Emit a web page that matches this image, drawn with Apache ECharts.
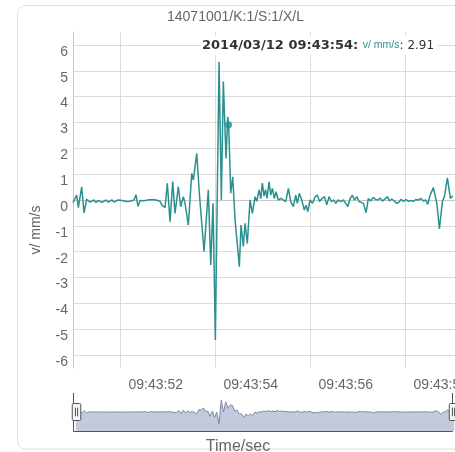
<!DOCTYPE html>
<html>
<head>
<meta charset="utf-8">
<script src="https://cdn.jsdelivr.net/npm/echarts@6/dist/echarts.min.js"></script>
<style>
  html, body { margin: 0; padding: 0; background: #fff; }
  #main { width: 455px; height: 452px; }
</style>
</head>
<body>
<div id="main"></div>
<script>
// seconds after 09:43:00
var times = [
  51.000, 51.040, 51.078, 51.112, 51.183, 51.232, 51.288, 51.326, 51.358, 51.400,
  51.442, 51.484, 51.526, 51.568, 51.611, 51.653, 51.695, 51.737, 51.779, 51.821,
  51.863, 51.905, 51.947, 51.989, 52.032, 52.074, 52.116, 52.158, 52.200, 52.242,
  52.284, 52.326, 52.368, 52.411, 52.453, 52.495, 52.537, 52.579, 52.621, 52.663,
  52.705, 52.747, 52.789, 52.832, 52.874, 52.937, 52.985, 53.042, 53.099, 53.147,
  53.217, 53.267, 53.322, 53.358, 53.427, 53.499, 53.533, 53.604, 53.659, 53.688,
  53.758, 53.848, 53.899, 53.947, 53.996, 54.074, 54.122, 54.164, 54.221, 54.257,
  54.276, 54.320, 54.362, 54.411, 54.446, 54.501, 54.537, 54.585, 54.621, 54.669,
  54.726, 54.775, 54.832, 54.867, 54.916, 54.952, 54.985, 55.021, 55.053, 55.084,
  55.126, 55.162, 55.196, 55.238, 55.274, 55.322, 55.379, 55.427, 55.478, 55.533,
  55.583, 55.638, 55.688, 55.722, 55.764, 55.815, 55.869, 55.905, 55.941, 55.989,
  56.042, 56.095, 56.143, 56.189, 56.242, 56.291, 56.341, 56.389, 56.438, 56.484,
  56.531, 56.579, 56.636, 56.691, 56.741, 56.783, 56.832, 56.880, 56.922, 56.973,
  57.021, 57.063, 57.112, 57.168, 57.217, 57.263, 57.322, 57.368, 57.415, 57.463,
  57.512, 57.568, 57.617, 57.659, 57.710, 57.764, 57.815, 57.863, 57.905, 57.954,
  58.004, 58.059, 58.116, 58.164, 58.215, 58.269, 58.326, 58.375, 58.425, 58.467,
  58.516, 58.585, 58.657, 58.712, 58.775, 58.817, 58.880, 58.943, 58.992, 59.048
];
// v/ mm/s
var values = [
  -0.10, 0.05, 0.19, -0.30, 0.51, -0.50, 0.03, 0.00, -0.08, -0.02,
  0.00, -0.10, -0.02, 0.00, -0.09, -0.03, 0.00, -0.08, -0.02, 0.00,
  -0.08, -0.02, 0.00, -0.07, -0.02, 0.02, -0.06, 0.00, -0.05, 0.02,
  0.00, 0.20, -0.25, -0.02, 0.05, -0.03, 0.03, 0.00, 0.05, 0.02,
  0.05, 0.00, 0.03, -0.05, -0.20, -0.30, 0.65, -0.84, 0.71, -0.52,
  0.52, -0.26, 0.13, -0.13, -0.97, 1.03, 0.77, 1.81, 0.26, 0.32,
  -2.00, 0.39, -2.51, -0.13, -5.42, 5.35, 0.00, 4.58, 1.61, 3.22,
  2.91, 0.26, 0.90, -0.77, -0.84, -2.58, -0.97, -1.80, -0.90, -1.68,
  0.00, -0.52, 0.13, -0.05, 0.39, 0.05, 0.65, 0.15, 0.40, 0.06,
  0.70, 0.19, 0.45, 0.06, 0.32, 0.00, 0.06, 0.00, -0.06, 0.45,
  -0.06, -0.26, 0.19, -0.13, 0.26, 0.00, -0.39, -0.20, -0.45, 0.00,
  -0.13, 0.13, 0.19, -0.06, 0.06, 0.13, -0.19, 0.13, -0.06, 0.00,
  -0.13, 0.00, -0.06, 0.00, -0.13, -0.26, 0.06, 0.19, 0.00, 0.13,
  -0.06, -0.02, -0.13, -0.49, 0.06, -0.04, 0.10, 0.02, 0.00, 0.08,
  -0.04, 0.04, 0.13, -0.04, 0.04, -0.04, -0.13, -0.08, 0.03, -0.06,
  0.02, -0.05, -0.02, -0.05, 0.02, 0.00, 0.06, -0.04, 0.00, -0.17,
  0.19, 0.48, -0.13, -1.12, -0.06, 0.13, 0.86, 0.06, 0.16, 0.06
];
var yTicks = [-6, -5, -4, -3, -2, -1, 0, 1, 2, 3, 4, 5, 6];
var xTicks = [52, 54, 56, 58];
var hoverPoint = [54.276, 2.91];

var lineColor = '#2b908f';
var chart = echarts.init(document.getElementById('main'));

var seriesData = times.map(function (t, i) { return [t, values[i]]; });

function timeLabel(v) {
  var s = Math.floor(v + 1e-6);
  return '09:43:' + (s < 10 ? '0' + s : s);
}

var option = {
  animation: false,
  textStyle: { fontFamily: 'Liberation Sans' },
  title: {
    text: '14071001/K:1/S:1/X/L',
    left: 167, top: 10, padding: 0,
    textStyle: { fontSize: 14, fontWeight: 'normal', color: '#666', fontFamily: 'Liberation Sans' }
  },
  grid: { left: 73, right: 0, top: 32, bottom: 84, outerBoundsMode: 'none', containLabel: false },
  xAxis: {
    type: 'value', min: 51, max: 59.04,
    name: 'Time/sec', nameLocation: 'middle', nameGap: 71,
    nameTextStyle: { fontSize: 16, color: '#666', padding: [0, 52, 0, 0] },
    axisLine: { show: true, lineStyle: { color: '#c8c8c8' } },
    axisTick: { show: false, customValues: xTicks },
    axisLabel: {
      customValues: xTicks, formatter: timeLabel,
      align: 'left', padding: [0, 0, 0, 8], margin: 10,
      fontSize: 14, color: '#666', hideOverlap: false
    },
    splitLine: { show: true, lineStyle: { color: '#dcdcdc' } }
  },
  yAxis: {
    type: 'value', min: -6.5, max: 6.5,
    name: 'v/ mm/s', nameLocation: 'middle', nameGap: 30, nameRotate: 90,
    nameTextStyle: { fontSize: 14, color: '#666', padding: [0, 60, 0, 0] },
    axisLine: { show: true, lineStyle: { color: '#c8c8c8' } },
    axisTick: { show: false, customValues: yTicks },
    axisLabel: {
      customValues: yTicks, fontSize: 14, color: '#666', margin: 5,
      verticalAlign: 'top'
    },
    splitLine: { show: true, lineStyle: { color: '#dcdcdc' } }
  },
  dataZoom: [{
    type: 'slider', xAxisIndex: 0, start: 0, end: 100,
    left: 73, right: 3, top: 393, height: 38,
    showDetail: false, brushSelect: false, moveHandleSize: 0,
    borderColor: 'transparent', backgroundColor: 'transparent',
    fillerColor: 'rgba(0,0,0,0)',
    handleIcon: 'path://M1,0H7A1,1,0,0,1,8,1V15A1,1,0,0,1,7,16H1A1,1,0,0,1,0,15V1A1,1,0,0,1,1,0Z M3,4V12 M5,4V12',
    handleSize: 17,
    handleStyle: { color: '#f4f4f4', borderColor: '#555', borderWidth: 1 },
    emphasis: { handleStyle: { color: '#f4f4f4', borderColor: '#555', borderWidth: 1 } },
    dataBackground: {
      lineStyle: { color: '#7c89a3', width: 1, opacity: 1 },
      areaStyle: { color: '#c3cadb', opacity: 1 }
    },
    selectedDataBackground: {
      lineStyle: { color: '#7c89a3', width: 1, opacity: 1 },
      areaStyle: { color: '#c3cadb', opacity: 1 }
    }
  }],
  series: [{
    type: 'line', data: seriesData, showSymbol: false,
    lineStyle: { color: lineColor, width: 1.5 },
    itemStyle: { color: lineColor }
  }, {
    type: 'scatter', data: [hoverPoint], symbolSize: 7,
    itemStyle: { color: lineColor }, z: 5
  }],
  graphic: [{
    type: 'rect', silent: true, z: -10,
    shape: { x: 17.5, y: 5.5, width: 470, height: 443.5, r: 8 },
    style: { fill: 'none', stroke: '#dedede', lineWidth: 1 }
  }, {
    type: 'polyline', silent: true, z: 1,
    shape: { points: [[73.5, 393], [73.5, 431.5], [452.5, 431.5], [452.5, 393]] },
    style: { fill: 'none', stroke: '#555', lineWidth: 1 }
  }, {
    type: 'text', left: 200, top: 36, z: 10,
    style: {
      text: '{a|2014/03/12 09:43:54: }{b|v/ mm/s}{c|: 2.91}',
      backgroundColor: '#fff', padding: [3, 4, 3, 2],
      rich: {
        a: { fontFamily: 'DejaVu Sans', fontWeight: 'bold', fontSize: 13, fill: '#333' },
        b: { fontFamily: 'Liberation Sans', fontSize: 10.5, fill: lineColor },
        c: { fontFamily: 'DejaVu Sans', fontSize: 12, fill: '#333' }
      }
    }
  }]
};

chart.setOption(option);
</script>
</body>
</html>
